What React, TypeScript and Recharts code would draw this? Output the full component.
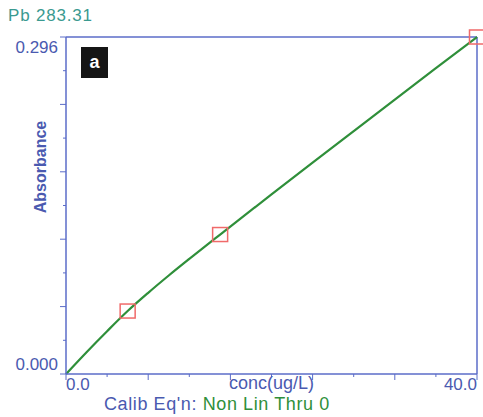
import { ComposedChart, Line, Scatter, XAxis, YAxis, ReferenceLine } from "recharts"

// calibration standards
const stdConc = [6, 15, 40]
const stdAbs = [0.0553, 0.1225, 0.296]

// fitted curve
const curveConc = [0, 2, 4, 6, 8, 10, 12, 15, 18, 20, 24, 28, 32, 36, 40]
const curveAbs = [0, 0.0192, 0.0376, 0.0553, 0.0713, 0.0865, 0.1011, 0.1225, 0.1437, 0.1577, 0.1856, 0.2134, 0.2411, 0.2686, 0.296]

const xTicks = [0, 4, 8, 12, 16, 20, 24, 28, 32, 36, 40]
const yTicks = [0, 0.0296, 0.0592, 0.0888, 0.1184, 0.148, 0.1776, 0.2072, 0.2368, 0.2664, 0.296]

const curveData = curveConc.map((c, i) => ({ conc: c, fit: curveAbs[i] }))
const stdData = stdConc.map((c, i) => ({ conc: c, abs: stdAbs[i] }))

const BLUE = "#5b6cc8"
const LABEL = "#4a5ab0"
const GREEN = "#2f8f3a"
const FONT = "'Liberation Sans', Arial, sans-serif"

const XTick = (props: any) => {
  const { x, y, index } = props
  const long = index % 2 === 0
  return (
    <g>
      <line x1={x} y1={y} x2={x} y2={y + (long ? 6 : 3)} stroke={BLUE} strokeWidth={1} />
      {index === 0 && (
        <text x={x} y={y + 16} fontSize={17} fill={LABEL} textAnchor="start">0.0</text>
      )}
      {index === 10 && (
        <text x={x} y={y + 16} fontSize={17} fill={LABEL} textAnchor="end">40.0</text>
      )}
    </g>
  )
}

const YTick = (props: any) => {
  const { x, y, index } = props
  const long = index % 2 === 0
  return (
    <g>
      <line x1={x} y1={y} x2={x - (long ? 6 : 3)} y2={y} stroke={BLUE} strokeWidth={1} />
      {index === 0 && (
        <text x={x - 8} y={y - 4} fontSize={17} fill={LABEL} textAnchor="end">0.000</text>
      )}
      {index === 10 && (
        <text x={x - 8} y={y + 16} fontSize={17} fill={LABEL} textAnchor="end">0.296</text>
      )}
    </g>
  )
}

const Square = (props: any) => {
  const { cx, cy } = props
  return <rect x={cx - 7.5} y={cy - 7} width={15} height={14} fill="none" stroke="#f06a6a" strokeWidth={1.5} />
}

export default function App() {
  return (
    <div style={{ position: "absolute", left: 0, top: 0, width: 483, height: 417, background: "#fff", fontFamily: FONT }}>
      <ComposedChart
        width={483}
        height={417}
        margin={{ top: 37, right: 6, bottom: 42, left: 65 }}
        style={{ fontFamily: FONT }}
      >
        <XAxis
          dataKey="conc"
          type="number"
          domain={[0, 40]}
          ticks={xTicks}
          height={1}
          tickSize={0}
          tickMargin={0}
          tickLine={false}
          tick={<XTick />}
          stroke={BLUE}
          strokeWidth={1.5}
          interval={0}
        />
        <YAxis
          type="number"
          domain={[0, 0.296]}
          ticks={yTicks}
          width={1}
          tickSize={0}
          tickMargin={0}
          tickLine={false}
          tick={<YTick />}
          stroke={BLUE}
          strokeWidth={1.5}
          interval={0}
        />
        <ReferenceLine y={0.296} stroke={BLUE} strokeWidth={1.5} />
        <ReferenceLine x={40} stroke={BLUE} strokeWidth={1.5} />
        <Line
          data={curveData}
          dataKey="fit"
          type="monotone"
          stroke={GREEN}
          strokeWidth={2.2}
          dot={false}
          isAnimationActive={false}
        />
        <Scatter data={stdData} dataKey="abs" shape={<Square />} isAnimationActive={false} />
      </ComposedChart>
      <div style={{ position: "absolute", left: 8, top: 6, fontSize: 17, letterSpacing: 0.8, color: "#3a9a90" }}>Pb 283.31</div>
      <div
        style={{
          position: "absolute",
          left: 81,
          top: 47,
          width: 27,
          height: 31,
          background: "#151515",
          color: "#fff",
          fontSize: 18,
          fontWeight: "bold",
          display: "flex",
          alignItems: "center",
          justifyContent: "center",
        }}
      >
        a
      </div>
      <div
        style={{
          position: "absolute",
          left: 41,
          top: 167,
          transform: "translate(-50%, -50%) rotate(-90deg)",
          fontSize: 16,
          fontWeight: "bold",
          color: LABEL,
          whiteSpace: "nowrap",
        }}
      >
        Absorbance
      </div>
      <div style={{ position: "absolute", left: 0, width: 543, top: 374, lineHeight: "19px", textAlign: "center", fontSize: 18, color: LABEL }}>
        conc(ug/L)
      </div>
      <div style={{ position: "absolute", left: 104, top: 395, lineHeight: "19px", fontSize: 18, letterSpacing: 0.6, whiteSpace: "nowrap" }}>
        <span style={{ color: LABEL }}>Calib Eq'n: </span>
        <span style={{ color: GREEN }}>Non Lin Thru 0</span>
      </div>
    </div>
  )
}
